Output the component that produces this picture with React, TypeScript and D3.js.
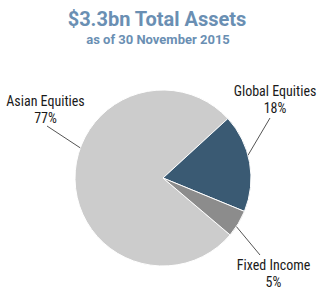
import React from "react";
import * as d3 from "d3";

const categories = ["Asian Equities", "Global Equities", "Fixed Income"];
const values = [77, 18, 5];
const percentLabels = ["77%", "18%", "5%"];
const title = "$3.3bn Total Assets";
const subtitle = "as of 30 November 2015";

const colors = ["#cccccc", "#3a5a73", "#8c8c8c"];
const W = 320, H = 296;
const cx = 163, cy = 178, R = 88;
const deg = Math.PI / 180;
// label layout: text centre x, first baseline, connector start (label side), connector angle on rim
const labelLayout = [
  { x: 45.5, y: 105.5, lx: 47, ly: 126, a: 290 },
  { x: 275, y: 95.5, lx: 270, ly: 118, a: 75 },
  { x: 273.5, y: 270, lx: 260, ly: 255, a: 123.5 },
];
const labelFont = "'Liberation Sans Narrow', 'Arial Narrow', 'Roboto Condensed', sans-serif";

export default function App() {
  const pie = d3
    .pie<number>()
    .sort(null)
    .value((d) => d)
    .startAngle(130.3 * deg)
    .endAngle(130.3 * deg + 2 * Math.PI);
  const arcs = pie(values);
  const arc = d3.arc<d3.PieArcDatum<number>>().innerRadius(0).outerRadius(R);
  return (
    <svg width={W} height={H} style={{ position: "absolute", left: 0, top: 0, background: "#fff" }}>
      <text x={157} y={26} textAnchor="middle" fontFamily="Roboto, sans-serif" fontWeight="bold" fontSize={20} fill="#6a8fb3">
        {title}
      </text>
      <text x={158} y={44} textAnchor="middle" fontFamily="Roboto, sans-serif" fontWeight="bold" fontSize={13} fill="#6a8fb3">
        {subtitle}
      </text>
      <g transform={`translate(${cx},${cy})`}>
        {arcs.map((a, i) => (
          <path key={i} d={arc(a) || ""} fill={colors[i]} stroke="#fff" strokeWidth={1} strokeLinejoin="round" />
        ))}
      </g>
      {labelLayout.map((l, i) => {
        const ex = cx + R * Math.sin(l.a * deg);
        const ey = cy - R * Math.cos(l.a * deg);
        return (
          <g key={i}>
            <line x1={l.lx} y1={l.ly} x2={ex} y2={ey} stroke="#555" strokeWidth={1} />
            <text x={l.x} y={l.y} textAnchor="middle" fontFamily={labelFont} fontSize={14} fill="#1a1a1a">
              {categories[i]}
            </text>
            <text x={l.x} y={l.y + 17} textAnchor="middle" fontFamily={labelFont} fontSize={14} fill="#1a1a1a">
              {percentLabels[i]}
            </text>
          </g>
        );
      })}
    </svg>
  );
}
